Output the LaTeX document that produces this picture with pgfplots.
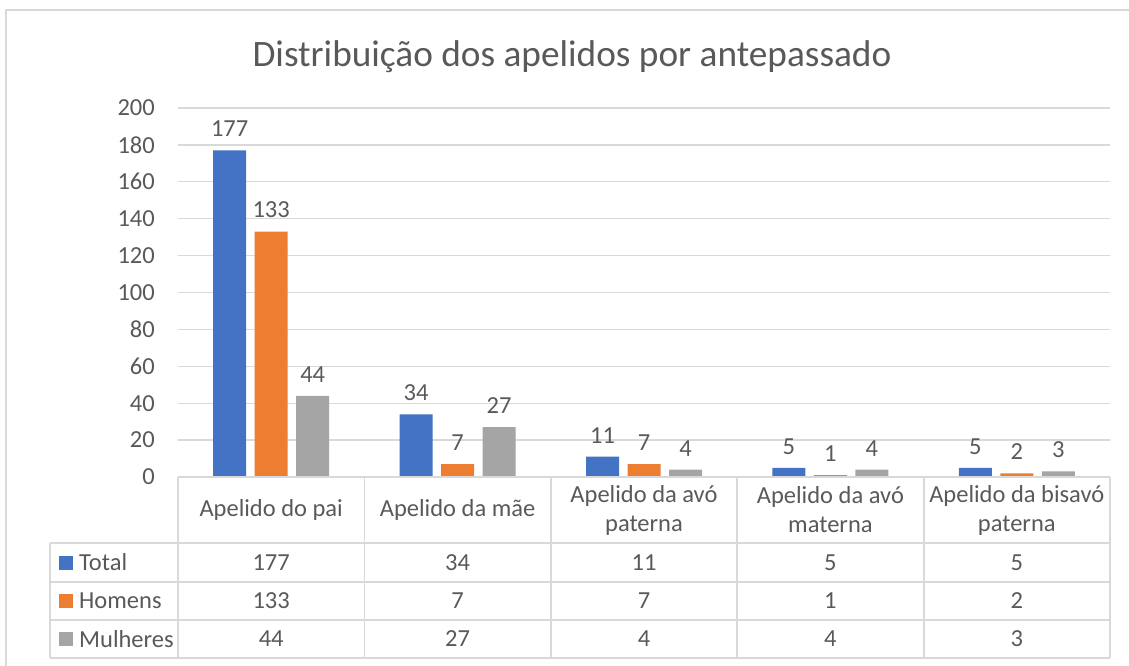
\documentclass[border=0pt]{standalone}
\usepackage{pgfplots}
\pgfplotsset{compat=1.18}
\usepackage{pgfplotstable}
\usepackage{fontspec}
\setmainfont{Carlito}
\definecolor{cblue}{HTML}{4472C4}
\definecolor{corange}{HTML}{ED7D31}
\definecolor{cgray}{HTML}{A5A5A5}
\definecolor{txt}{HTML}{595959}
\definecolor{grd}{HTML}{D9D9D9}
\newcommand\lf{\fontsize{24.5}{29}\selectfont}
\pgfplotstableread{
x total homens mulheres
0 177 133 44
1 34 7 27
2 11 7 4
3 5 1 4
4 5 2 3
}\data
\begin{document}
\begin{tikzpicture}
\path[use as bounding box] (0pt,0pt) rectangle (1129pt,-666pt);
\draw[line width=2pt, grd] (6pt,-666pt) -- (6pt,-10pt) -- (1129pt,-10pt);
\node[text=txt, font=\fontsize{37.3}{45}\selectfont] at (572pt,-57pt) {Distribuição dos apelidos por antepassado};
\begin{axis}[
  at={(178pt,-477pt)}, anchor=south west,
  scale only axis, width=932pt, height=369pt,
  xmin=-0.5, xmax=4.5, ymin=0, ymax=200,
  ytick={0,20,...,200}, xtick=\empty,
  ymajorgrids, grid style={grd, line width=1.3pt},
  axis line style={draw=none}, tick style={draw=none},
  /pgf/number format/assume math mode=true,
  yticklabel style={font=\lf, text=txt, inner sep=0pt, xshift=-23pt},
  ybar=8.5pt, bar width=33pt,
  nodes near coords,
  every node near coord/.append style={font=\lf, text=txt, yshift=10pt},
  clip=false,
]
\addplot[fill=cblue, draw=none] table[x=x, y=total] {\data};
\addplot[fill=corange, draw=none] table[x=x, y=homens] {\data};
\addplot[fill=cgray, draw=none] table[x=x, y=mulheres] {\data};
\end{axis}
\begin{scope}[x=1pt, y=-1pt]
\tikzset{tl/.style={grd, line width=1.8pt}}
\draw[tl] (178,477) -- (1110,477);
\foreach \yy in {543,582,620,658} { \draw[tl] (50,\yy) -- (1110,\yy); }
\draw[tl] (50,543) -- (50,658);
\foreach \xx in {178,364.4,550.8,737.2,923.6,1110} { \draw[tl] (\xx,477) -- (\xx,658); }
\foreach \lab [count=\i from 0] in {{Apelido do pai},{Apelido da mãe},{Apelido da avó\\paterna},{Apelido da avó\\materna},{Apelido da bisavó\\paterna}} {
  \pgfmathsetmacro\cx{271.2+186.4*\i}
  \node[text=txt, font=\lf, align=center, inner sep=0pt] at (\cx,510) {\lab};
}
\foreach \nm/\col/\yy in {Total/cblue/562.5, Homens/corange/601, Mulheres/cgray/639} {
  \fill[\col] (59,\yy-7) rectangle (73,\yy+7);
  \node[text=txt, font=\lf, anchor=west, inner sep=0pt] at (79,\yy) {\nm};
}
\foreach \c/\yy in {total/562.5, homens/601, mulheres/639} {
  \foreach \r in {0,...,4} {
    \pgfplotstablegetelem{\r}{\c}\of\data
    \pgfmathsetmacro\cx{271.2+186.4*\r}
    \node[text=txt, font=\lf, inner sep=0pt] at (\cx,\yy) {\pgfplotsretval};
  }
}
\end{scope}
\end{tikzpicture}
\end{document}
